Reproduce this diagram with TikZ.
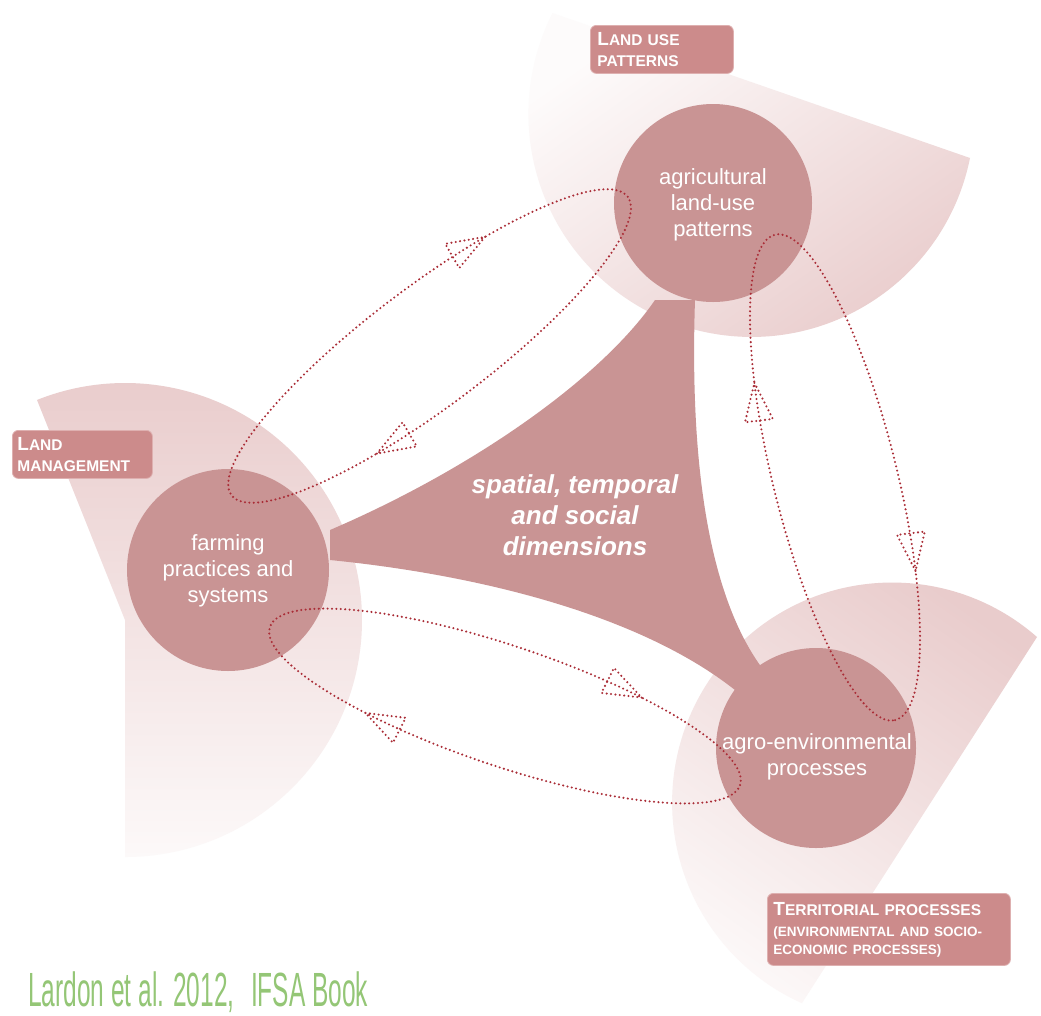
\documentclass[tikz,border=0pt]{standalone}
\usepackage{fontspec}
\usepackage{graphicx}
\setmainfont{Liberation Sans}
\usetikzlibrary{decorations.markings}
\definecolor{circ}{RGB}{201,148,148}
\definecolor{labfill}{RGB}{204,139,139}
\definecolor{labline}{RGB}{222,176,176}
\definecolor{pale}{RGB}{233,204,204}
\definecolor{dotc}{RGB}{170,45,55}
\definecolor{citec}{RGB}{148,198,118}
\newcommand\fakesc[2]{{\fontsize{19}{20}\selectfont #1}#2}
\newcommand\arrowtri{\draw[dotline] (0pt,0pt) -- (38pt,14pt) -- (38pt,-14pt) -- cycle;}
\begin{document}
\begin{tikzpicture}[x=1pt,y=-1pt,
  dotline/.style={draw=dotc,line width=2.3pt,line cap=round,dash pattern=on 0pt off 4.4pt},
  dotloop/.style 2 args={dotline,postaction={decorate},
    decoration={markings,mark=at position #1 with {\arrowtri},mark=at position #2 with {\arrowtri}}},
  circnode/.style={circle,fill=circ,minimum size=#1,inner sep=0pt},
  ctext/.style={text=white,align=center,inner sep=0pt,font=\fontsize{22}{26}\selectfont},
  labelbox/.style={fill=labfill,draw=labline,line width=0.8pt,rounded corners=6pt,text=white,
    align=left,anchor=north west,inner ysep=0pt,font=\bfseries\fontsize{15.5}{21}\selectfont}]
\useasboundingbox (0,0) rectangle (1041,1015);
\fill[white] (0,0) rectangle (1041,1015);
% pale sectors
\shade[top color=pale, bottom color=pale!12!white] (125,620) -- (125,857)
  arc[start angle=-90, end angle=111.8, radius=237pt] -- cycle;
\shade[top color=pale!8!white, bottom color=pale, shading angle=35] (970,158)
  arc[start angle=-11.4, end angle=-206.9, radius=223pt] -- cycle;
\shade[top color=pale, bottom color=pale!15!white, shading angle=-35] (1037,637)
  arc[start angle=48.8, end angle=245.8, radius=220pt] -- cycle;
% labels
\node[labelbox, minimum width=143pt, minimum height=48pt, inner xsep=7pt, text width=129pt] (lup) at (590,25)
  {\fakesc{L}{AND USE}\\PATTERNS};
\node[labelbox, minimum width=140pt, minimum height=48pt, inner xsep=5pt, text width=130pt] (lm) at (12,430)
  {\fakesc{L}{AND}\\MANAGEMENT};
\node[labelbox, minimum width=243pt, minimum height=72pt, inner xsep=6pt, text width=231pt, font=\bfseries\fontsize{15.5}{18}\selectfont] (terr) at (767,893)
  {\fakesc{T}{ERRITORIAL PROCESSES}\\[3pt]{\fontsize{13.5}{18}\selectfont (ENVIRONMENTAL AND SOCIO-\\ECONOMIC PROCESSES)}};
% central triangle
\fill[circ] (655,300) -- (695,300) .. controls (690,450) and (705,590) .. (762,668)
  -- (735,690) .. controls (640,615) and (480,575) .. (330,560)
  -- (330,530) .. controls (470,470) and (600,380) .. (655,300) -- cycle;
% circles
\node[circnode=198pt] (agri) at (713,203) {};
\node[circnode=202pt] (farm) at (228,570) {};
\node[circnode=200pt] (agro) at (816,748) {};
% dotted loops
\coordinate (c1) at (429.5,346);
\coordinate (c2) at (835,477.5);
\coordinate (c3) at (505,706);
\draw[dotloop={0.146}{0.649}, rotate around={37:(c1)}] (c1) ellipse [x radius=248pt, y radius=60pt];
\draw[dotloop={0.147}{0.646}, rotate around={-76.1:(c2)}] (c2) ellipse [x radius=250pt, y radius=62pt];
\draw[dotloop={0.13}{0.627}, rotate around={-18.6:(c3)}] (c3) ellipse [x radius=248pt, y radius=60pt];
% texts
\node[ctext] (agriT) at (713,205) {agricultural\\land-use\\patterns};
\node[ctext] (farmT) at (228,571) {farming\\practices and\\systems};
\node[ctext] (agroT) at (817,757) {agro-environmental\\processes};
\node[text=white, align=center, inner sep=0pt, font=\bfseries\itshape\fontsize{26}{31}\selectfont] (dimT) at (575,515)
  {spatial, temporal\\and social\\dimensions};
\node[anchor=base west, text=citec, inner sep=0pt, font=\fontsize{48}{48}\selectfont] (cite) at (28,1006)
  {\scalebox{0.51}[1]{Lardon et al. 2012,\hspace{0.4em} IFSA Book}};
\end{tikzpicture}
\end{document}
